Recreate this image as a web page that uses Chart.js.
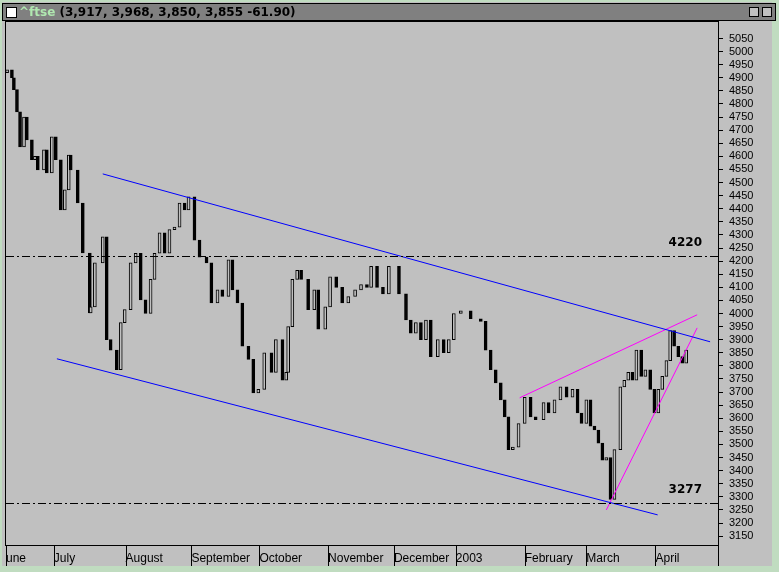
<!DOCTYPE html>
<html><head><meta charset="utf-8">
<script src="https://cdn.jsdelivr.net/npm/chart.js@4"></script>
<style>html,body{margin:0;padding:0;background:#c0dcc0;}#w{position:relative;width:779px;height:572px;}</style>
</head><body><div id="w"><canvas id="c" width="779" height="572"></canvas></div>
<script>
// session positions (chart day units) and closing levels
const sessions = [0.5,2.7,3.6,5,6.4,8.2,9.5,11.8,13.2,14.5,17.3,18.6,20.9,22.7,25,26.8,28.6,29.5,32.7,35,38.2,38.6,40.5,44.1,45.9,47.7,50.5,52.3,54.1,56.8,59.1,61.4,63.6,65.9,67.7,70,72.3,74.5,76.8,79.1,81.4,83.2,85.9,88.2,91.4,93.6,96.4,98.6,101.4,103.2,105.5,107.7,110.5,112.7,115,117.7,121,123,126,127.7,128.6,130.5,132.7,134.5,137.7,140.5,142.3,145.5,147.7,150.5,153.2,156,159.1,161.8,164.5,166.4,169.1,171.8,174.5,176.8,179.1,182.3,184.5,186.8,189.1,191.4,193.6,196.8,199.5,201.8,204.1,207.3,211.8,216.4,218.6,220.9,223.2,225.5,227.3,229,231,233.6,236.4,239.1,241.4,245,247.3,250,252.7,255.5,258.2,260.5,262.3,264.5,266.4,268.2,270,271.8,273.6,275.5,277.3,280,281.8,283.6,285.5,287.3,289.5,291.4,293.6,295.5,297.3,299.1,301,302.7,304.5,306.4,308.2,310];
const closes = [4930,4900,4855,4770,4636,4750,4663,4587,4600,4548,4625,4537,4675,4587,4395,4472,4605,4548,4422,4231,4002,4025,4193,4293,3900,3860,3785,3965,4015,4193,4230,4052,4000,4130,4230,4308,4230,4320,4330,4422,4395,4445,4280,4215,4193,4040,4090,4065,4205,4090,4040,3875,3825,3697,3710,3850,3775,3900,3745,3775,3950,4130,4165,4130,4015,4090,3940,4025,4140,4100,4040,4065,4090,4110,4100,4180,4100,4075,4180,4180,4075,3975,3925,3965,3900,3975,3835,3900,3850,3900,4000,4010,3980,3970,3860,3785,3735,3670,3605,3480,3490,3580,3680,3605,3595,3660,3620,3670,3720,3680,3710,3620,3580,3670,3570,3555,3505,3440,3450,3290,3480,3720,3745,3775,3745,3860,3760,3785,3710,3620,3710,3760,3820,3935,3875,3835,3810,3860,3910,3860];
const monthPos = [0,21.8,54.5,84.5,115.5,146.8,176.8,205,236.4,264.5,296];
const monthLabels = ['une','July','August','September','October','November','December','2003','February','March','April'];
const yTicks = [3150,3200,3250,3300,3350,3400,3450,3500,3550,3600,3650,3700,3750,3800,3850,3900,3950,4000,4050,4100,4150,4200,4250,4300,4350,4400,4450,4500,4550,4600,4650,4700,4750,4800,4850,4900,4950,5000,5050];
const upperChannel = [[44.1,4533],[320.9,3892]];
const lowerChannel = [[23.2,3827],[297,3231]];
const wedgeTop = [[234.1,3678],[315,3995]];
const wedgeBottom = [[273.6,3250],[315,3945]];
const levels = [4220,3277];

const bodies = closes.map((c,i)=>({x:sessions[i], y:[i?closes[i-1]:4920, c]}));
const bodyColors = closes.map((c,i)=> (i && c<closes[i-1]) ? '#000' : '#c0c0c0');
const toPts = a=>a.map(p=>({x:p[0],y:p[1]}));

const frame = {
  id:'frame',
  beforeDraw(ch){
    const x=ch.ctx; x.save();
    x.fillStyle='#c0dcc0'; x.fillRect(0,0,779,572);
    x.fillStyle='#c0c0c0'; x.fillRect(2,2,770,564);
    x.fillStyle='#808080'; x.fillRect(2,3,774,18);
    x.strokeStyle='#000'; x.lineWidth=1; x.strokeRect(2.5,3.5,773,17);
    x.fillStyle='#fff'; x.fillRect(6,7,11,11); x.strokeRect(6.5,7.5,10,10);
    x.font='bold 12px "DejaVu Sans"'; x.textBaseline='middle';
    x.fillStyle='#b0e8b0'; x.fillText('^ftse',19,13);
    const w=x.measureText('^ftse ').width;
    x.fillStyle='#000'; x.fillText('(3,917, 3,968, 3,850, 3,855 -61.90)',19+w,13);
    x.fillStyle='#c0c0c0'; x.fillRect(749,7,10,10); x.fillRect(762,7,10,10);
    x.strokeRect(749.5,7.5,9,9); x.strokeRect(762.5,7.5,9,9);
    const a=ch.chartArea;
    x.strokeRect(a.left-0.5,a.top-0.5,a.right-a.left+1,a.bottom-a.top+1);
    // month separators in the time strip
    const xs=ch.scales.x;
    x.beginPath();
    monthPos.forEach(v=>{const p=Math.round(xs.getPixelForValue(v))+0.5;x.moveTo(p,a.bottom);x.lineTo(p,566);});
    x.moveTo(a.right+0.5,a.bottom);x.lineTo(a.right+0.5,566);
    x.stroke();
    x.restore();
  },
  afterDatasetsDraw(ch){
    const x=ch.ctx, ys=ch.scales.y, a=ch.chartArea; x.save();
    x.strokeStyle='#000'; x.lineWidth=1; x.setLineDash([8,3,2,3]);
    levels.forEach(v=>{const p=Math.round(ys.getPixelForValue(v))+0.5;x.beginPath();x.moveTo(a.left,p);x.lineTo(a.right,p);x.stroke();});
    x.setLineDash([]);
    x.font='bold 12px "DejaVu Sans"'; x.fillStyle='#000'; x.textAlign='right';
    levels.forEach(v=>x.fillText(String(v),702,ys.getPixelForValue(v)-10));
    x.restore();
  }
};

new Chart(document.getElementById('c'),{
  data:{datasets:[
    {type:'bar',data:bodies,backgroundColor:bodyColors,borderColor:'#000',borderWidth:1,barThickness:3,borderSkipped:false,order:2},
    {type:'line',data:toPts(upperChannel),borderColor:'#0000ff',borderWidth:1,pointRadius:0,order:1},
    {type:'line',data:toPts(lowerChannel),borderColor:'#0000ff',borderWidth:1,pointRadius:0,order:1},
    {type:'line',data:toPts(wedgeTop),borderColor:'#ff00ff',borderWidth:1,pointRadius:0,order:1},
    {type:'line',data:toPts(wedgeBottom),borderColor:'#ff00ff',borderWidth:1,pointRadius:0,order:1}
  ]},
  options:{responsive:false,animation:false,devicePixelRatio:1,
    layout:{padding:{left:4,top:22,right:0,bottom:0}},
    plugins:{legend:{display:false},tooltip:{enabled:false}},
    scales:{
      x:{type:'linear',min:0,max:324.5,offset:false,
        afterBuildTicks(s){s.ticks=monthPos.map(v=>({value:v}));},
        afterFit(s){s.height=27;},
        ticks:{align:'start',autoSkip:false,maxRotation:0,color:'#000',font:{family:'Liberation Sans',size:12},padding:6,
          callback:(v,i)=>monthLabels[i]},
        grid:{offset:false,drawOnChartArea:false,color:'#000',tickLength:0},border:{color:'#000'}},
      y:{position:'right',min:3116,max:5113,
        afterBuildTicks(s){s.ticks=yTicks.map(v=>({value:v}));},
        afterFit(s){s.width=61;},
        ticks:{autoSkip:false,color:'#000',font:{family:'Liberation Sans',size:11},padding:6,callback:v=>String(v)},
        grid:{drawOnChartArea:false,color:'#000',tickLength:5},border:{color:'#000'}}
    }},
  plugins:[frame]
});
</script></body></html>
